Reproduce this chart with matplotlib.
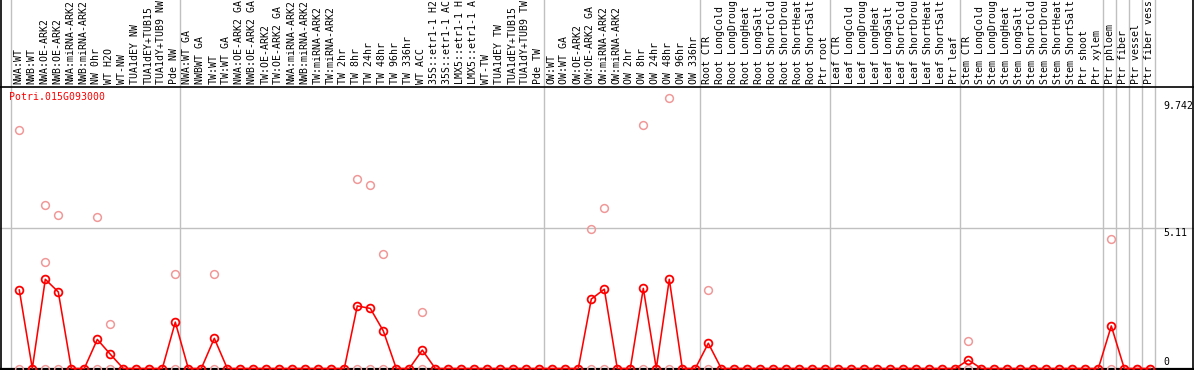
import matplotlib
matplotlib.use("Agg")
import matplotlib.pyplot as plt
from matplotlib.transforms import blended_transform_factory

gene = "Potri.015G093000"

samples = [
    "NWA:WT", "NWB:WT", "NWA:OE-ARK2", "NWB:OE-ARK2", "NWA:miRNA-ARK2",
    "NWB:miRNA-ARK2", "NW 0hr", "WT H2O", "WT-NW", "TUA1dEY NW",
    "TUA1dEY+TUB15 NW", "TUA1dY+TUB9 NW", "Pde NW", "NWA:WT GA", "NWBWT GA",
    "TW:WT", "TW:WT GA", "NWA:OE-ARK2 GA", "NWB:OE-ARK2 GA", "TW:OE-ARK2",
    "TW:OE-ARK2 GA", "NWA:miRNA-ARK2 GA", "NWB:miRNA-ARK2 GA", "TW:miRNA-ARK2",
    "TW:miRNA-ARK2 GA", "TW 2hr", "TW 8hr", "TW 24hr", "TW 48hr", "TW 96hr",
    "TW 336hr", "WT ACC", "35S::etr1-1 H2O", "35S::etr1-1 ACC",
    "LMX5::etr1-1 H2O", "LMX5::etr1-1 ACC", "WT-TW", "TUA1dEY TW",
    "TUA1dEY+TUB15 TW", "TUA1dY+TUB9 TW", "Pde TW", "OW:WT", "OW:WT GA",
    "OW:OE-ARK2", "OW:OE-ARK2 GA", "OW:miRNA-ARK2", "OW:miRNA-ARK2 GA",
    "OW 2hr", "OW 8hr", "OW 24hr", "OW 48hr", "OW 96hr", "OW 336hr",
    "Root CTR", "Root LongCold", "Root LongDrought", "Root LongHeat",
    "Root LongSalt", "Root ShortCold", "Root ShortDrought", "Root ShortHeat",
    "Root ShortSalt", "Ptr root", "Leaf CTR", "Leaf LongCold",
    "Leaf LongDrought", "Leaf LongHeat", "Leaf LongSalt", "Leaf ShortCold",
    "Leaf ShortDrought", "Leaf ShortHeat", "Leaf ShortSalt", "Ptr leaf",
    "Stem CTR", "Stem LongCold", "Stem LongDrought", "Stem LongHeat",
    "Stem LongSalt", "Stem ShortCold", "Stem ShortDrought", "Stem ShortHeat",
    "Stem ShortSalt", "Ptr shoot", "Ptr xylem", "Ptr phloem", "Ptr fiber",
    "Ptr vessel", "Ptr fiber vessel",
]

# mean expression per sample (red line)
mean_vals = [
    2.86, 0, 3.25, 2.79, 0, 0, 1.06, 0.52, 0, 0,
    0, 0, 1.69, 0, 0, 1.10, 0, 0, 0, 0,
    0, 0, 0, 0, 0, 0, 2.28, 2.19, 1.37, 0,
    0, 0.67, 0, 0, 0, 0, 0, 0, 0, 0,
    0, 0, 0, 0, 2.53, 2.89, 0, 0, 2.92, 0,
    3.25, 0, 0, 0.92, 0, 0, 0, 0, 0, 0,
    0, 0, 0, 0, 0, 0, 0, 0, 0, 0,
    0, 0, 0, 0.31, 0, 0, 0, 0, 0, 0,
    0, 0, 0, 0, 1.55, 0, 0, 0,
]

# individual replicates above zero (pink circles)
rep_idx = [0, 2, 2, 3, 6, 7, 12, 15, 26, 27, 28, 31, 44, 45, 48, 50, 53, 73, 84]
rep_vals = [8.69, 5.96, 3.87, 5.59, 5.52, 1.61, 3.43, 3.43, 6.91, 6.69, 4.17,
            2.06, 5.08, 5.84, 8.86, 9.85, 2.86, 1.00, 4.71]

# a separator follows each of these samples
group_ends = [-1, 12, 40, 52, 62, 72, 83, 84, 85, 86, 87]
tick_vals = [9.742, 5.11, 0]

W, H = 1194, 370
fig = plt.figure(figsize=(W / 100, H / 100), dpi=100)
band = 86.5
ax = fig.add_axes([0, 0, 1, (H - band) / H])
for s in ax.spines.values():
    s.set_visible(False)
ax.set_xticks([])
ax.set_yticks([])

x0, dx = 19.3, 13.0
ax.set_xlim(-x0 / dx, (W - x0) / dx)
ppu = 27.44
ax.set_ylim(-1.5 / ppu, (H - band - 1.5) / ppu)

mono = "DejaVu Sans Mono"
fs = 7.1
bt = blended_transform_factory(ax.transData, fig.transFigure)

# separators through label band and plot
for g in group_ends:
    xs = g + 0.5 - 1.5 / dx
    ax.plot([xs, xs], [0, 1], transform=bt, color="#c0c0c0", lw=1.0,
            clip_on=False, zorder=1)
ax.axhline(5.11, color="#c0c0c0", lw=1.0, zorder=1)

# borders
fig.add_artist(plt.Line2D([0.5 / W, 0.5 / W], [0, 1], color="black", lw=1.2))
fig.add_artist(plt.Line2D([1 - 0.8 / W, 1 - 0.8 / W], [0, 1], color="black", lw=1.2))
fig.add_artist(plt.Line2D([0, 1], [1 - band / H, 1 - band / H], color="black", lw=1.2))
ax.axhline(0, color="black", lw=1.6, zorder=2)

idx = list(range(len(samples)))
ax.plot(idx, [0] * len(idx), "o", ms=5.6, mfc="none", mec="#f09898",
        mew=1.1, zorder=3, clip_on=False)
ax.plot(rep_idx, rep_vals, "o", ms=5.6, mfc="none", mec="#f09898",
        mew=1.1, zorder=3)
ax.plot(idx, mean_vals, "-", color="red", lw=1.15, zorder=4)
ax.plot(idx, mean_vals, "o", ms=5.6, mfc="none", mec="red", mew=1.3,
        zorder=5, clip_on=False)

# sample labels: the band only has room for 14 characters
for i, name in enumerate(samples):
    ax.text(i - 1 / dx, 1 - 84 / H, name[:14].rstrip(), transform=bt,
            rotation=90, ha="center", va="bottom", fontsize=fs, family=mono,
            color="black", clip_on=False)

fig.text(9 / W, 1 - 92 / H, gene, color="red", fontsize=fs, family=mono,
         ha="left", va="top")

tt = blended_transform_factory(ax.transAxes, ax.transData)
for v in tick_vals:
    if v == 0:
        ax.text(1163 / W, 1.5 / ppu, "0", transform=tt, ha="left",
                va="bottom", fontsize=fs, family=mono)
    else:
        ax.text(1163 / W, v, str(v), transform=tt, ha="left", va="top",
                fontsize=fs, family=mono)

fig.savefig("out.png", dpi=100)
